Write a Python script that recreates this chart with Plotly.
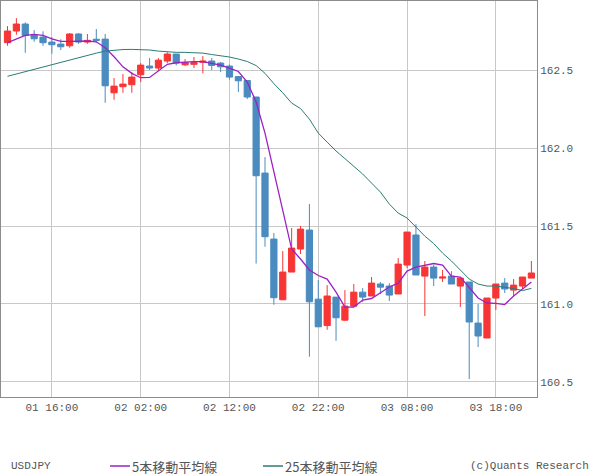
import plotly.graph_objects as go
import pandas as pd

# ---- data (hourly USDJPY candles) ----
times = pd.date_range("2024-07-01 11:00", periods=60, freq="h")

open_ = [162.679, 162.754, 162.799, 162.730, 162.715, 162.683, 162.670, 162.659, 162.735, 162.683,
         162.701, 162.702, 162.357, 162.396, 162.409, 162.473, 162.529, 162.516, 162.561, 162.606,
         162.537, 162.540, 162.553, 162.561, 162.548, 162.529, 162.461, 162.436, 162.330, 161.841,
         161.417, 161.027, 161.205, 161.353, 161.475, 161.031, 160.861, 161.044, 160.896, 160.986,
         161.076, 161.051, 161.128, 161.115, 161.064, 161.250, 161.443, 161.179, 161.237, 161.166,
         161.179, 161.115, 161.141, 160.877, 160.781, 161.038, 161.134, 161.089, 161.115, 161.166]
high = [162.786, 162.837, 162.810, 162.760, 162.752, 162.715, 162.701, 162.741, 162.741, 162.735,
        162.767, 162.735, 162.452, 162.478, 162.490, 162.548, 162.580, 162.580, 162.617, 162.606,
        162.574, 162.587, 162.593, 162.580, 162.555, 162.539, 162.465, 162.439, 162.330, 161.944,
        161.456, 161.340, 161.488, 161.501, 161.642, 161.154, 161.121, 161.044, 161.089, 161.128,
        161.102, 161.173, 161.141, 161.134, 161.295, 161.462, 161.513, 161.276, 161.250, 161.218,
        161.211, 161.166, 161.141, 161.000, 161.038, 161.128, 161.166, 161.160, 161.173, 161.276]
low = [162.659, 162.730, 162.614, 162.685, 162.659, 162.608, 162.632, 162.647, 162.672, 162.672,
       162.679, 162.293, 162.312, 162.357, 162.357, 162.426, 162.503, 162.497, 162.548, 162.533,
       162.529, 162.516, 162.482, 162.503, 162.490, 162.442, 162.362, 162.317, 161.260, 161.368,
       160.995, 161.027, 161.205, 161.321, 160.661, 160.853, 160.834, 160.763, 160.890, 160.986,
       161.012, 161.051, 161.064, 161.019, 161.064, 161.231, 161.186, 160.922, 161.115, 161.141,
       161.128, 160.980, 160.517, 160.723, 160.781, 160.961, 161.070, 161.051, 161.096, 161.166]
close = [162.754, 162.799, 162.726, 162.704, 162.679, 162.666, 162.653, 162.735, 162.683, 162.694,
         162.694, 162.402, 162.400, 162.413, 162.458, 162.535, 162.516, 162.567, 162.606, 162.548,
         162.550, 162.551, 162.561, 162.533, 162.524, 162.458, 162.434, 162.330, 161.824, 161.432,
         161.040, 161.205, 161.359, 161.481, 161.014, 160.853, 161.051, 160.911, 160.986, 161.076,
         161.044, 161.134, 161.108, 161.057, 161.256, 161.462, 161.186, 161.237, 161.166, 161.173,
         161.128, 161.166, 160.884, 160.794, 161.038, 161.128, 161.096, 161.121, 161.173, 161.199]

ma5 = [162.679, 162.701, 162.726, 162.733, 162.726, 162.704, 162.688, 162.688, 162.688, 162.690,
       162.685, 162.647, 162.589, 162.524, 162.482, 162.454, 162.456, 162.497, 162.540, 162.550,
       162.555, 162.557, 162.557, 162.546, 162.535, 162.516, 162.494, 162.426, 162.298, 162.098,
       161.848, 161.597, 161.353, 161.289, 161.218, 161.183, 161.160, 161.076, 160.980, 160.980,
       161.025, 161.035, 161.070, 161.109, 161.134, 161.211, 161.237, 161.250, 161.260, 161.250,
       161.179, 161.173, 161.109, 161.038, 161.006, 161.004, 160.996, 161.051, 161.096, 161.141]
ma25 = [162.463, 162.478, 162.494, 162.510, 162.526, 162.542, 162.555, 162.567, 162.584, 162.600,
        162.612, 162.625, 162.632, 162.635, 162.636, 162.635, 162.632, 162.625, 162.619, 162.617,
        162.617, 162.616, 162.612, 162.603, 162.595, 162.587, 162.574, 162.558, 162.532, 162.482,
        162.416, 162.357, 162.291, 162.256, 162.188, 162.098, 162.040, 161.983, 161.934, 161.886,
        161.835, 161.777, 161.719, 161.642, 161.584, 161.552, 161.491, 161.436, 161.388, 161.327,
        161.276, 161.218, 161.160, 161.128, 161.115, 161.115, 161.109, 161.099, 161.086, 161.100]

x_range = ["2024-07-01 10:16", "2024-07-03 22:38"]
y_range = [160.402, 162.947]
y_ticks = [160.5, 161.0, 161.5, 162.0, 162.5]

RED = "#F83535"
BLUE = "#4A8BC0"
PURPLE = "#9C22C4"
TEAL = "#2A7D74"
TXT = "#555555"
MONO = "Liberation Mono, DejaVu Sans Mono, monospace"
CJK = "Noto Sans CJK JP"

fig = go.Figure()
fig.add_trace(go.Candlestick(
    x=times, open=open_, high=high, low=low, close=close, name="USDJPY",
    increasing=dict(line=dict(color=RED, width=1), fillcolor=RED),
    decreasing=dict(line=dict(color=BLUE, width=1), fillcolor=BLUE),
    whiskerwidth=0, showlegend=False, hoverinfo="skip",
))
fig.add_trace(go.Scatter(x=times, y=ma5, mode="lines", line=dict(color=PURPLE, width=1.3),
                         showlegend=False, hoverinfo="skip"))
fig.add_trace(go.Scatter(x=times, y=ma25, mode="lines", line=dict(color=TEAL, width=1.0),
                         showlegend=False, hoverinfo="skip"))

fig.update_layout(
    width=600, height=475,
    margin=dict(l=1, r=63, t=1, b=78),
    paper_bgcolor="white", plot_bgcolor="white",
    boxgap=0.3, boxgroupgap=0,
    xaxis=dict(
        type="date", range=x_range, rangeslider=dict(visible=False),
        tick0="2024-07-01 16:00", dtick=10 * 3600 * 1000, tickformat="%d %H:%M",
        showgrid=True, gridcolor="#C8C8C8", gridwidth=1,
        showline=True, linecolor="#8C8C8C", linewidth=1, mirror=True,
        ticks="", tickfont=dict(family=MONO, size=11, color=TXT),
        zeroline=False,
    ),
    yaxis=dict(
        side="right", range=y_range, tickvals=y_ticks, tickformat=".1f",
        showgrid=True, gridcolor="#C8C8C8", gridwidth=1,
        showline=True, linecolor="#8C8C8C", linewidth=1, mirror=True,
        ticks="", tickfont=dict(family=MONO, size=11, color=TXT),
        zeroline=False,
    ),
)

# legend row (bottom)
def px_x(p):
    return (p - 1) / 536.0

ly = (397 - 466) / 396.0
ann = [
    dict(text="USDJPY", x=px_x(9), xanchor="left", font=dict(family=MONO, size=11, color=TXT)),
    dict(text="5本移動平均線", x=px_x(130), xanchor="left", font=dict(family=CJK, size=13, color=TXT)),
    dict(text="25本移動平均線", x=px_x(283), xanchor="left", font=dict(family=CJK, size=13, color=TXT)),
    dict(text="(c)Quants Research", x=px_x(591), xanchor="right", font=dict(family=MONO, size=11, color=TXT)),
]
for a in ann:
    fig.add_annotation(xref="paper", yref="paper", y=ly, yanchor="middle", showarrow=False, **a)

fig.add_shape(type="line", xref="paper", yref="paper", x0=px_x(110), x1=px_x(130), y0=ly, y1=ly,
              line=dict(color=PURPLE, width=1.5))
fig.add_shape(type="line", xref="paper", yref="paper", x0=px_x(263), x1=px_x(283), y0=ly, y1=ly,
              line=dict(color=TEAL, width=1.5))

fig.write_html("out.html")
